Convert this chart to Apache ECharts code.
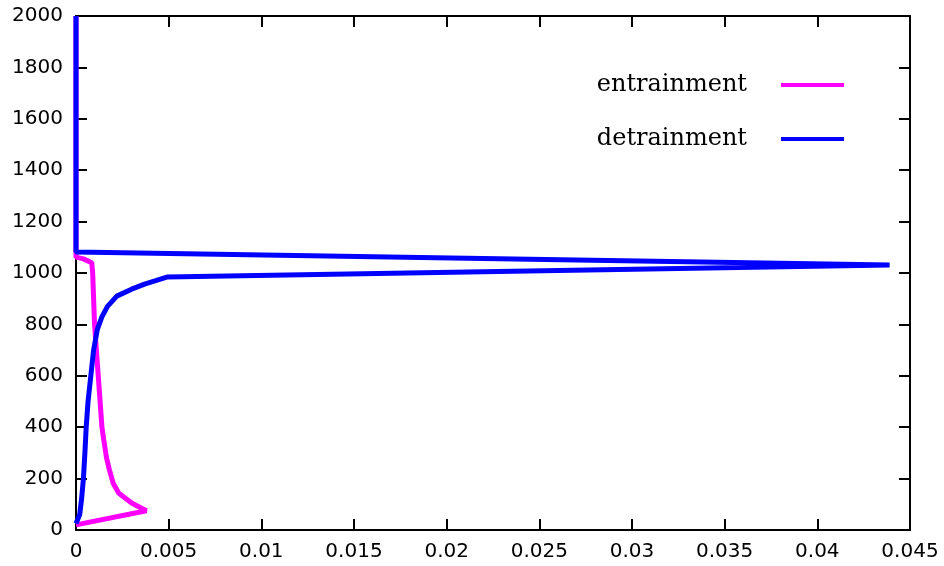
<!DOCTYPE html>
<html>
<head>
<meta charset="utf-8">
<script src="https://cdn.jsdelivr.net/npm/echarts@6/dist/echarts.min.js"></script>
<style>
  html, body { margin: 0; padding: 0; background: #fff; }
  #chart { width: 944px; height: 566px; }
</style>
</head>
<body>
<div id="chart"></div>
<script>
// Entrainment and detrainment rate profiles against height (m)
const seriesNames = ['entrainment', 'detrainment'];

// entrainment rate (x) at height (z)
const entrainRate = [0, 0.0038, 0.003, 0.0023, 0.002, 0.0018, 0.00165, 0.0015, 0.0014, 0.0013, 0.0012, 0.0011, 0.001, 0.00095, 0.0009, 0.00085, 0.0004, 0, 0];
const entrainZ    = [20, 75, 105, 144, 183, 235, 280, 350, 400, 500, 600, 700, 800, 900, 1000, 1040, 1055, 1062, 2000];

// detrainment rate (x) at height (z)
const detrainRate = [0, 0.0002, 0.0003, 0.0004, 0.00048, 0.00055, 0.00065, 0.0008, 0.00095, 0.00115, 0.0014, 0.0017, 0.0022, 0.003, 0.0037, 0.0043, 0.0049, 0.0439, 0, 0];
const detrainZ    = [25, 60, 120, 200, 300, 400, 500, 600, 700, 780, 830, 870, 910, 937, 957, 970, 984, 1031, 1082, 2000];

const xTickLabels = ['0', '0.005', '0.01', '0.015', '0.02', '0.025', '0.03', '0.035', '0.04', '0.045'];
const yTickLabels = ['0', '200', '400', '600', '800', '1000', '1200', '1400', '1600', '1800', '2000'];

const X_STEP = 0.005, Y_STEP = 200;

const pairs = (xs, zs) => xs.map((x, i) => [x, zs[i]]);

const axisLine = () => ({ show: true, onZero: false, lineStyle: { color: '#000', width: 2 } });
const axisTick = () => ({ show: true, inside: true, length: 11, lineStyle: { color: '#000', width: 2 } });
const labelFont = () => ({ color: '#000', fontFamily: 'DejaVu Sans', fontSize: 20 });

const chart = echarts.init(document.getElementById('chart'), null, { renderer: 'canvas' });
chart.setOption({
  animation: false,
  backgroundColor: '#fff',
  grid: { left: 76, right: 34, top: 16, bottom: 36, containLabel: false },
  legend: {
    data: seriesNames.map(n => ({ name: n, icon: 'rect' })),
    orient: 'vertical',
    align: 'right',
    right: 95,
    top: 68,
    itemWidth: 63,
    itemHeight: 4,
    itemGap: 30,
    textStyle: { fontFamily: 'DejaVu Serif', fontSize: 24, color: '#000', padding: [0, 29, 0, 0] }
  },
  xAxis: [
    {
      type: 'value', min: 0, max: 0.045, interval: X_STEP, position: 'bottom',
      axisLine: axisLine(), axisTick: axisTick(), splitLine: { show: false },
      axisLabel: Object.assign({ margin: 12, formatter: v => xTickLabels[Math.round(v / X_STEP)] }, labelFont())
    },
    {
      type: 'value', min: 0, max: 0.045, interval: X_STEP, position: 'top',
      axisLine: axisLine(), axisTick: axisTick(), splitLine: { show: false },
      axisLabel: { show: false }
    }
  ],
  yAxis: [
    {
      type: 'value', min: 0, max: 2000, interval: Y_STEP, position: 'left',
      axisLine: axisLine(), axisTick: axisTick(), splitLine: { show: false },
      axisLabel: Object.assign({ margin: 13, formatter: v => yTickLabels[Math.round(v / Y_STEP)] }, labelFont())
    },
    {
      type: 'value', min: 0, max: 2000, interval: Y_STEP, position: 'right',
      axisLine: axisLine(), axisTick: axisTick(), splitLine: { show: false },
      axisLabel: { show: false }
    }
  ],
  series: [
    {
      name: seriesNames[0], type: 'line', xAxisIndex: 0, yAxisIndex: 0,
      data: pairs(entrainRate, entrainZ),
      showSymbol: false, symbol: 'none', clip: false,
      color: '#ff00ff', lineStyle: { color: '#ff00ff', width: 5 }
    },
    {
      name: seriesNames[1], type: 'line', xAxisIndex: 0, yAxisIndex: 0,
      data: pairs(detrainRate, detrainZ),
      showSymbol: false, symbol: 'none', clip: false,
      color: '#0000ff', lineStyle: { color: '#0000ff', width: 5 }
    }
  ]
});
</script>
</body>
</html>
